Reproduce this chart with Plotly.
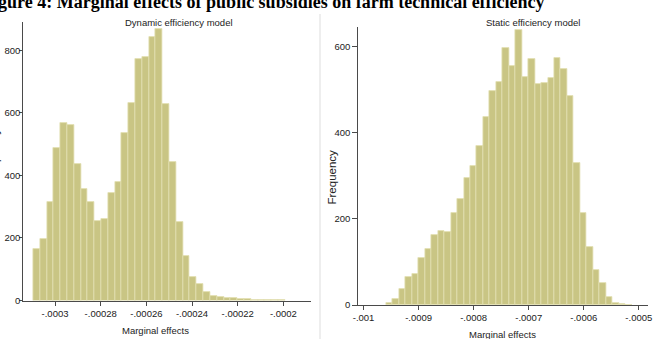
import plotly.graph_objects as go

W, H = 654, 339

# ---- data ----
dyn_counts = [164, 196, 314, 487, 567, 561, 436, 356, 314, 255, 260, 343, 380, 535, 631,
              772, 780, 842, 868, 629, 442, 252, 143, 74, 52, 26, 14, 11, 9, 7, 6, 5, 3, 2, 2, 2, 1]
dyn_bin_start = -0.0003095
dyn_bin_width = 2.979e-6
dyn_xticks = [-0.0003, -0.00028, -0.00026, -0.00024, -0.00022, -0.0002]
dyn_xticktext = ["-.0003", "-.00028", "-.00026", "-.00024", "-.00022", "-.0002"]
dyn_yticks = [0, 200, 400, 600, 800]

sta_counts = [5, 13, 38, 65, 73, 108, 131, 162, 171, 170, 214, 247, 294, 323, 370, 437, 497, 518,
              597, 555, 638, 530, 571, 512, 516, 526, 572, 547, 486, 329, 213, 134, 81, 50, 19, 5, 2, 1]
sta_bin_start = -0.0009588
sta_bin_width = 1.1742e-5
sta_xticks = [-0.001, -0.0009, -0.0008, -0.0007, -0.0006, -0.0005]
sta_xticktext = ["-.001", "-.0009", "-.0008", "-.0007", "-.0006", "-.0005"]
sta_yticks = [0, 200, 400, 600]

main_title = "Figure 4: Marginal effects of public subsidies on farm technical efficiency"
dyn_title = "Dynamic efficiency model"
sta_title = "Static efficiency model"
x_title = "Marginal effects"
y_title = "Frequency"

# ---- styles ----
FONT = "Liberation Sans, Arial, sans-serif"
BAR_FILL = "rgb(201,197,132)"
BAR_LINE = "rgb(226,223,178)"
AX = "#4a4a4a"


def px(x):
    return x / W


def py(y):
    return 1 - y / H


def centers(start, width, n):
    return [start + width * (i + 0.5) for i in range(n)]


fig = go.Figure()
fig.add_trace(go.Bar(
    x=centers(dyn_bin_start, dyn_bin_width, len(dyn_counts)), y=dyn_counts,
    width=dyn_bin_width, marker=dict(color=BAR_FILL, line=dict(color=BAR_LINE, width=0.8)),
    xaxis="x", yaxis="y", showlegend=False, hoverinfo="skip"))
fig.add_trace(go.Bar(
    x=centers(sta_bin_start, sta_bin_width, len(sta_counts)), y=sta_counts,
    width=sta_bin_width, marker=dict(color=BAR_FILL, line=dict(color=BAR_LINE, width=0.8)),
    xaxis="x2", yaxis="y2", showlegend=False, hoverinfo="skip"))

axis_common = dict(showline=True, linecolor=AX, linewidth=1, ticks="outside",
                   tickcolor=AX, tickwidth=1, showgrid=False, zeroline=False,
                   ticklabeloverflow="allow", automargin=False,
                   tickfont=dict(family=FONT, size=9.5, color="#222"))

fig.update_layout(
    width=W, height=H, margin=dict(l=0, r=0, t=0, b=0, pad=0, autoexpand=False),
    paper_bgcolor="white", plot_bgcolor="white", bargap=0,
    xaxis=dict(domain=[px(23.3), px(311)], range=[-0.0003139, -0.0001879], ticklen=4,
               tickvals=dyn_xticks, ticktext=dyn_xticktext, anchor="y", **axis_common),
    yaxis=dict(domain=[py(300.5), py(22)], range=[0, 891], tickvals=dyn_yticks, ticklen=3,
               ticklabelstandoff=-3, anchor="x", **axis_common),
    xaxis2=dict(domain=[px(358.3), px(648)], range=[-0.0010096, -0.0004833], ticklen=4,
                tickvals=sta_xticks, ticktext=sta_xticktext, anchor="y2", **axis_common),
    yaxis2=dict(domain=[py(305), py(27)], range=[0, 645], tickvals=sta_yticks, ticklen=5,
                anchor="x2", **axis_common),
)

ann_font = dict(family=FONT, size=9.5, color="#222")
fig.add_annotation(text="<b>" + main_title + "</b>", xref="paper", yref="paper",
                   x=px(-20), y=py(1.5), xanchor="left", yanchor="middle", showarrow=False,
                   font=dict(family="Liberation Serif, Times New Roman, serif", size=18,
                             color="black"))
fig.add_annotation(text=dyn_title, xref="paper", yref="paper", x=px(179), y=py(23),
                   xanchor="center", yanchor="middle", showarrow=False, font=ann_font)
fig.add_annotation(text=sta_title, xref="paper", yref="paper", x=px(533), y=py(22),
                   xanchor="center", yanchor="middle", showarrow=False, font=ann_font)
fig.add_annotation(text=x_title, xref="paper", yref="paper", x=px(155), y=py(330),
                   xanchor="center", yanchor="middle", showarrow=False, font=ann_font)
fig.add_annotation(text=x_title, xref="paper", yref="paper", x=px(502), y=py(334.5),
                   xanchor="center", yanchor="middle", showarrow=False, font=ann_font)
fig.add_annotation(text=y_title, xref="paper", yref="paper", x=px(331), y=py(177.5),
                   xanchor="center", yanchor="middle", showarrow=False, textangle=-90,
                   font=dict(family=FONT, size=11.5, color="#222"))
fig.add_annotation(text=y_title, xref="paper", yref="paper", x=px(-5), y=py(156),
                   xanchor="center", yanchor="middle", showarrow=False, textangle=-90,
                   font=dict(family=FONT, size=11.5, color="#222"))

fig.add_shape(type="line", xref="paper", yref="paper", x0=px(320), x1=px(320),
              y0=py(14), y1=0, line=dict(color="#eeeeee", width=2))

fig.write_html("out.html")
